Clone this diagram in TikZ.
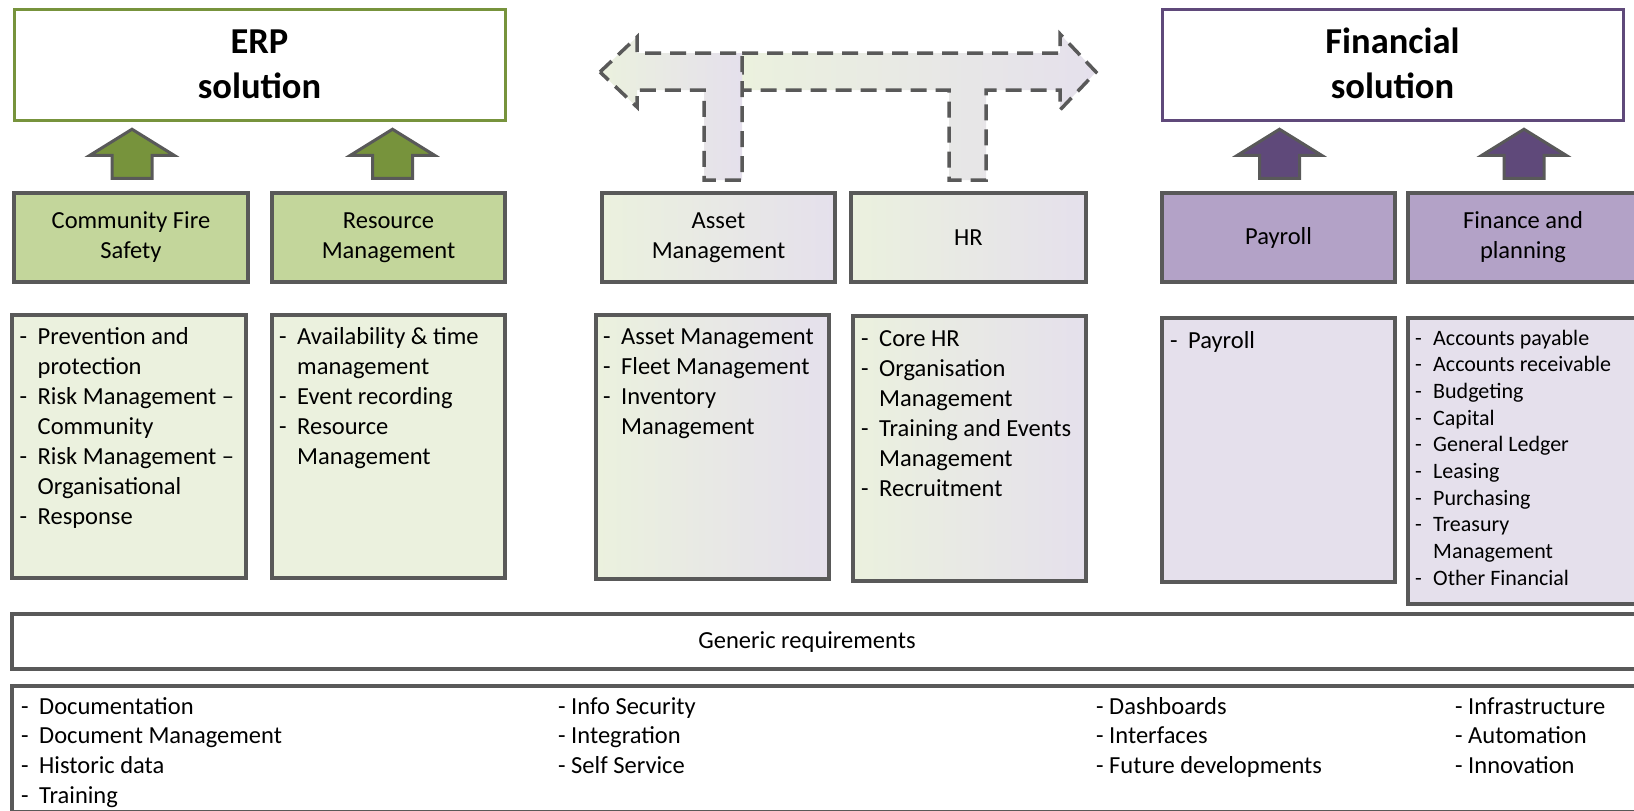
\documentclass[tikz,border=0pt]{standalone}
\usepackage{fontspec}
\setmainfont{Carlito}
\usetikzlibrary{fit,calc}
\definecolor{ergreen}{HTML}{77933C}
\definecolor{catgreen}{HTML}{C3D69B}
\definecolor{lstgreen}{HTML}{EBF1DE}
\definecolor{fpurple}{HTML}{5F497A}
\definecolor{catpurple}{HTML}{B3A2C7}
\definecolor{lstpurple}{HTML}{E5E0EC}
\definecolor{bgray}{HTML}{595959}
\newcommand\lfont{\fontsize{24.5}{30}\selectfont}
\newlength\dw
\setlength\dw{18pt}
\newcommand\ditem[1]{\makebox[\dw][l]{-}#1}
\newcommand\dcont[1]{\hspace*{\dw}#1}
\newcommand\lst[1]{\begin{tabular}[t]{@{}l@{}}#1\end{tabular}}
\newcommand\ctr[1]{\begin{tabular}[t]{@{}c@{}}#1\end{tabular}}
\begin{document}
\begin{tikzpicture}[x=1pt,y=-1pt,
 titlebox/.style={draw, line width=3pt, fill=white, inner sep=0pt},
 titletext/.style={anchor=base, inner sep=0pt, font=\fontsize{36.5}{45}\selectfont\bfseries},
 catbox/.style={draw=bgray, line width=3.5pt, inner sep=0pt},
 cattext/.style={anchor=base, inner sep=0pt, font=\lfont},
 lstbox/.style={draw=bgray, line width=3.5pt, inner sep=0pt},
 lsttext/.style={anchor=base west, inner sep=0pt, font=\lfont},
 grad/.style={left color=lstgreen, right color=lstpurple},
 blkarrow/.style={draw=bgray, line width=3pt, line join=miter},
 dasharr/.style={draw=bgray, line width=3.5pt, dash pattern=on 16pt off 9pt, left color=lstgreen, right color=lstpurple},
 pics/blkup/.style={code={\draw[blkarrow, fill=#1] (-20,0) -- (-20,-23) -- (-42,-23) -- (0,-49) -- (42,-23) -- (20,-23) -- (20,0) -- cycle;}}
]
\useasboundingbox (0,0) rectangle (1634,811);
\clip (0,0) rectangle (1634,811);
\fill[white] (0,0) rectangle (1634,811);

% title boxes
\node[titlebox, draw=ergreen, fit={(14,9) (505,120)}] (erp) {};
\node[titletext] (erpt) at (erp.center |- 0,53) {\ctr{ERP\\solution}};
\node[titlebox, draw=fpurple, fit={(1162,9) (1623,120)}] (fin) {};
\node[titletext] (fint) at (fin.center |- 0,53) {\ctr{Financial\\solution}};

% category boxes
\node[catbox, fill=catgreen, fit={(14,193) (248,282)}] (cfs) {};
\node[cattext] (cfst) at (cfs.center |- 0,228) {\ctr{Community Fire\\Safety}};
\node[catbox, fill=catgreen, fit={(272,193) (505,282)}] (rm) {};
\node[cattext] (rmt) at (rm.center |- 0,228) {\ctr{Resource\\Management}};
\node[catbox, grad, fit={(602,193) (835,282)}] (am) {};
\node[cattext] (amt) at (am.center |- 0,228) {\ctr{Asset\\Management}};
\node[catbox, grad, fit={(851,193) (1086,282)}] (hr) {};
\node[cattext] (hrt) at (hr.center |- 0,245) {HR};
\node[catbox, fill=catpurple, fit={(1162,193) (1395,282)}] (pay) {};
\node[cattext] (payt) at (pay.center |- 0,244) {Payroll};
\node[catbox, fill=catpurple, fit={(1408,193) (1642,282)}] (fp) {};
\node[cattext] (fpt) at (1523,228) {\ctr{Finance and\\planning}};

% block arrows
\pic at ($(cfs.north)+(1,-13)$) {blkup=ergreen};
\pic at ($(rm.north)+(4,-13)$) {blkup=ergreen};
\pic at ($(pay.north)+(1,-13)$) {blkup=fpurple};
\pic at ($(fp.north)+(-1,-13)$) {blkup=fpurple};

% double arrow (two bent pieces)
\path[dasharr] (742,53) -- (1060,53) -- (1060,34) -- (1096,72) -- (1060,110) -- (1060,90) -- (986,90) -- (986,180) -- (949,180) -- (949,90) -- (742,90) -- cycle;
\path[dasharr] (600,72) -- (637,37) -- (637,53) -- (742,53) -- (742,180) -- (704,180) -- (704,90) -- (637,90) -- (637,107) -- cycle;

% list boxes
\node[lstbox, fill=lstgreen, fit={(12,315) (246,578)}] (cfsl) {};
\node[lstbox, fill=lstgreen, fit={(272,315) (505,578)}] (rml) {};
\node[lstbox, grad, fit={(596,315) (829,579)}] (aml) {};
\node[lstbox, grad, fit={(853,316) (1086,581)}] (hrl) {};
\node[lstbox, fill=lstpurple, fit={(1162,318) (1395,582)}] (payl) {};
\node[lstbox, fill=lstpurple, fit={(1408,318) (1642,604)}] (fpl) {};

\node[lsttext] (t1) at (19.5,344) {\lst{\ditem{Prevention and}\\ \dcont{protection}\\ \ditem{Risk Management –}\\ \dcont{Community}\\ \ditem{Risk Management –}\\ \dcont{Organisational}\\ \ditem{Response}}};
\node[lsttext] (t2) at (279,344) {\lst{\ditem{Availability \& time}\\ \dcont{management}\\ \ditem{Event recording}\\ \ditem{Resource}\\ \dcont{Management}}};
\node[lsttext] (t3) at (603,344) {\lst{\ditem{Asset Management}\\ \ditem{Fleet Management}\\ \ditem{Inventory}\\ \dcont{Management}}};
\node[lsttext] (t4) at (861,346) {\lst{\ditem{Core HR}\\ \ditem{Organisation}\\ \dcont{Management}\\ \ditem{Training and Events}\\ \dcont{Management}\\ \ditem{Recruitment}}};
\node[lsttext] (t5) at (1170,348) {\lst{\ditem{Payroll}}};
\node[lsttext, font=\fontsize{22}{26.7}\selectfont] (t6) at (1415,345) {\lst{\ditem{Accounts payable}\\ \ditem{Accounts receivable}\\ \ditem{Budgeting}\\ \ditem{Capital}\\ \ditem{General Ledger}\\ \ditem{Leasing}\\ \ditem{Purchasing}\\ \ditem{Treasury}\\ \dcont{Management}\\ \ditem{Other Financial}}};

% generic requirements
\node[lstbox, fill=white, fit={(12,614) (1642,669)}] (gen) {};
\node[font=\lfont, inner sep=0pt] (gent) at (807,642) {Generic requirements};
\node[lstbox, fill=white, fit={(12,686) (1642,812)}] (genl) {};
\node[lsttext, font=\fontsize{24.5}{29.7}\selectfont] (g1) at (21,714) {\lst{\ditem{Documentation}\\ \ditem{Document Management}\\ \ditem{Historic data}\\ \ditem{Training}}};
\node[lsttext, font=\fontsize{24.5}{29.7}\selectfont] (g2) at (558,714) {\lst{- Info Security\\ - Integration\\ - Self Service}};
\node[lsttext, font=\fontsize{24.5}{29.7}\selectfont] (g3) at (1096,714) {\lst{- Dashboards\\ - Interfaces\\ - Future developments}};
\node[lsttext, font=\fontsize{24.5}{29.7}\selectfont] (g4) at (1455,714) {\lst{- Infrastructure\\ - Automation\\ - Innovation}};
\end{tikzpicture}
\end{document}
